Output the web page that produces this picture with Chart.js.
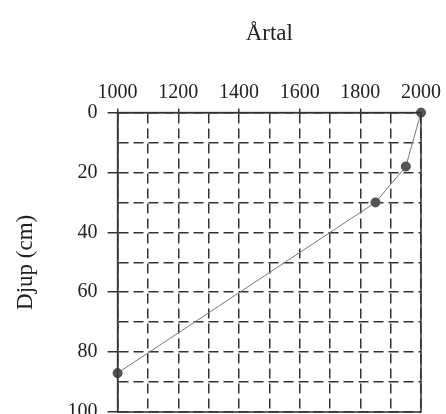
<!DOCTYPE html>
<html>
<head>
<meta charset="utf-8">
<script src="https://cdn.jsdelivr.net/npm/chart.js@4/dist/chart.umd.min.js"></script>
<style>
  html, body { margin: 0; padding: 0; background: #fff; overflow: hidden; }
  #wrap { width: 446px; height: 414px; overflow: hidden; }
</style>
</head>
<body>
<div id="wrap"><canvas id="chart" width="446" height="434"></canvas></div>
<script>
// avläsning från figuren
const years = [1000, 1850, 1950, 2000];
const depths = [87, 30, 18, 0];
const yearTicks = [1000, 1200, 1400, 1600, 1800, 2000];
const depthTicks = [0, 20, 40, 60, 80, 100];

const ink = '#333';
const serif = 'Liberation Serif, Times New Roman, serif';

// ram runt plottytan (höger och nedre kant)
const frame = {
    id: 'frame',
    afterDatasetsDraw(chart) {
        const a = chart.chartArea, c = chart.ctx;
        c.save();
        c.strokeStyle = ink;
        c.lineWidth = 1.5;
        c.strokeRect(a.left, a.top, a.right - a.left, a.bottom - a.top);
        c.restore();
    }
};

var ctx = document.getElementById('chart').getContext('2d');
var chart = new Chart(ctx, {
    type: 'scatter',
    data: {
        datasets: [{
            data: years.map((y, i) => ({x: y, y: depths[i]})),
            showLine: true,
            borderColor: '#777',
            borderWidth: 1,
            pointRadius: 4.5,
            pointBackgroundColor: '#555',
            pointBorderColor: '#444',
            pointBorderWidth: 1,
            clip: false
        }]
    },
    options: {
        responsive: false,
        animation: false,
        layout: {padding: {left: 0, right: 25, top: 0, bottom: 0}},
        plugins: {legend: {display: false}, tooltip: {enabled: false}},
        scales: {
            x: {
                type: 'linear',
                position: 'top',
                min: 1000, max: 2000,
                ticks: {
                    stepSize: 100,
                    padding: 4,
                    autoSkip: false,
                    maxRotation: 0,
                    color: '#222',
                    font: {family: serif, size: 20},
                    callback: v => yearTicks.includes(v) ? String(v) : ''
                },
                grid: {
                    color: ink,
                    lineWidth: 1.5,
                    tickLength: 4,
                    tickColor: c => yearTicks.includes(c.tick && c.tick.value) ? ink : 'transparent'
                },
                border: {display: true, color: ink, width: 1.5, dash: [10, 5], dashOffset: 0},
                title: {
                    display: true,
                    text: 'Årtal',
                    color: '#222',
                    font: {family: serif, size: 23},
                    padding: {top: 20, bottom: 29}
                }
            },
            y: {
                type: 'linear',
                reverse: true,
                min: 0, max: 100,
                ticks: {
                    stepSize: 10,
                    padding: 10,
                    autoSkip: false,
                    color: '#222',
                    font: {family: serif, size: 20},
                    callback: v => depthTicks.includes(v) ? String(v) : ''
                },
                grid: {
                    color: ink,
                    lineWidth: 1.5,
                    tickLength: 10,
                    tickColor: c => depthTicks.includes(c.tick && c.tick.value) ? ink : 'transparent'
                },
                border: {display: true, color: ink, width: 1.5, dash: [10, 5], dashOffset: 0},
                title: {
                    display: true,
                    text: 'Djup (cm)',
                    color: '#222',
                    font: {family: serif, size: 23},
                    padding: {top: 12, bottom: 18}
                }
            }
        }
    },
    plugins: [frame]
});
</script>
</body>
</html>
